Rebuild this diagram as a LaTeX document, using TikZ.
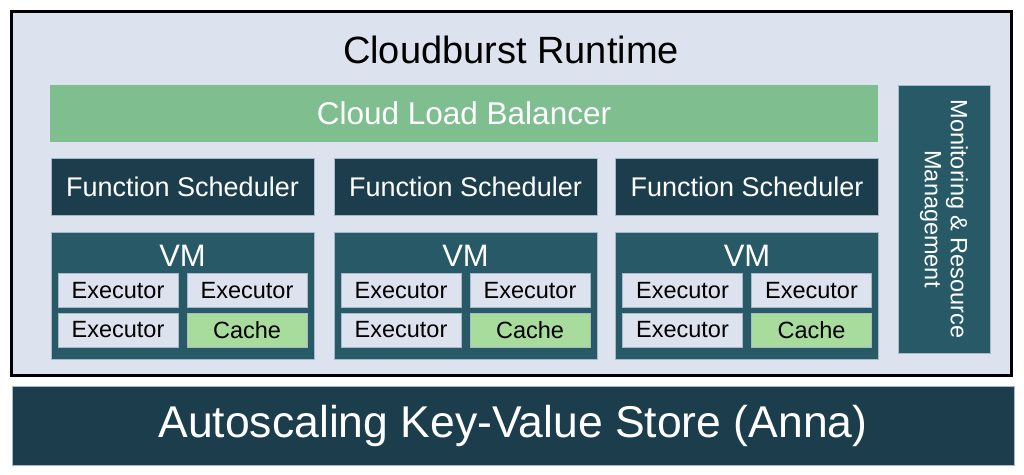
\documentclass[tikz,border=0pt]{standalone}
\usepackage{fontspec}
\setmainfont{Liberation Sans}
\definecolor{bgpanel}{HTML}{DCE2EE}
\definecolor{lbgreen}{HTML}{7FBE8F}
\definecolor{darkteal}{HTML}{1B3D4C}
\definecolor{midteal}{HTML}{275A66}
\definecolor{cachegreen}{HTML}{A8DC9C}
\definecolor{edgec}{HTML}{A9B8C8}
\tikzset{
  blk/.style={rectangle, inner sep=0pt, draw=edgec, line width=0.6pt},
  fsbox/.style={blk, fill=darkteal, text=white, minimum width=263pt, minimum height=57pt, font=\fontsize{27}{30}\selectfont},
  vmbox/.style={blk, fill=midteal, minimum width=263pt, minimum height=127pt},
  vmlabel/.style={text=white, inner sep=0pt, font=\fontsize{31}{34}\selectfont},
  exbox/.style={blk, fill=bgpanel, text=black, minimum width=120pt, minimum height=34pt, font=\fontsize{23.5}{26}\selectfont},
  cachebox/.style={exbox, fill=cachegreen},
}
\newcommand{\vmgroup}[2]{%
  % #1 = name prefix, #2 = left x
  \node[fsbox] (#1fs) at ({#2+131.5},186.5) {Function Scheduler};
  \node[vmbox] (#1vm) at ({#2+131.5},295.5) {};
  \node[vmlabel] (#1lab) at ({#2+131.5},256) {VM};
  \node[exbox] (#1ea) at ({#2+67},290.5) {Executor};
  \node[exbox] (#1eb) at ({#2+196},290.5) {Executor};
  \node[exbox] (#1ec) at ({#2+67},330) {Executor};
  \node[cachebox] (#1ca) at ({#2+196},330) {Cache};
}
\begin{document}
\begin{tikzpicture}[x=1pt,y=-1pt]
  \fill[white] (0,0) rectangle (1024,474);
  \useasboundingbox (0,0) rectangle (1024,474);
  % outer runtime panel
  \node[rectangle, inner sep=0pt, fill=bgpanel, draw=black, line width=3pt,
        minimum width=1000pt, minimum height=364pt] (runtime) at (511,193) {};
  \node[inner sep=0pt, font=\fontsize{38}{42}\selectfont] (title) at (511,50) {Cloudburst Runtime};
  \node[blk, draw=none, fill=lbgreen, text=white, minimum width=828pt, minimum height=57pt,
        font=\fontsize{31.5}{36}\selectfont] (clb) at (464,113.5) {Cloud Load Balancer};
  \vmgroup{a}{51}
  \vmgroup{b}{334}
  \vmgroup{c}{615.5}
  \node[blk, fill=midteal, minimum width=92pt, minimum height=268pt] (mon) at (944,219) {};
  \node[rotate=-90, align=center, text=white, inner sep=0pt,
        font=\fontsize{23.5}{26}\selectfont] (montext) at (mon.center) {Monitoring \& Resource\\Management};
  \node[blk, fill=darkteal, text=white, minimum width=1002pt, minimum height=79pt,
        font=\fontsize{44.5}{48}\selectfont] (anna) at (513,425.5) {Autoscaling Key-Value Store (Anna)};
\end{tikzpicture}
\end{document}
